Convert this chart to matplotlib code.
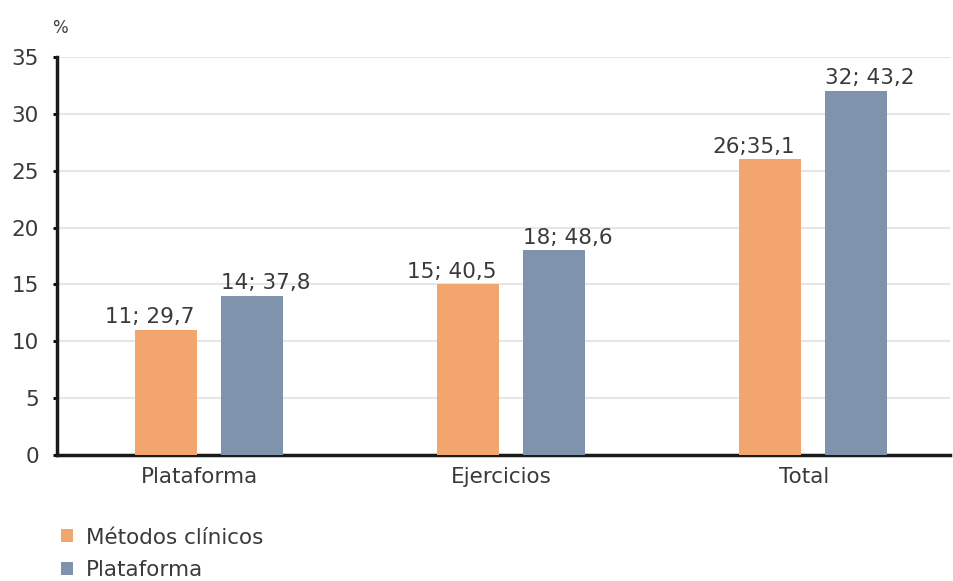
import numpy as np
import matplotlib
matplotlib.use('Agg')
import matplotlib.pyplot as plt
from matplotlib.patches import Patch

# Dados
categorias = ['Plataforma', 'Ejercicios', 'Total']
metodos_clinicos = [11, 15, 26]
plataforma = [14, 18, 32]
rotulos_metodos = ['11; 29,7', '15; 40,5', '26;35,1']
rotulos_plataforma = ['14; 37,8', '18; 48,6', '32; 43,2']
yticks = [0, 5, 10, 15, 20, 25, 30, 35]

cor_laranja = '#F3A56E'
cor_azul = '#8093AD'
cor_texto = '#3a3a3a'

plt.rcParams['font.family'] = ['DejaVu Sans']

fig = plt.figure(figsize=(9.54, 5.81), dpi=100)
ax = fig.add_axes([0.0597, 0.2169, 0.936, 0.685])

x = np.arange(len(categorias))
largura = 0.205
desloc = 0.142

b1 = ax.bar(x - desloc, metodos_clinicos, largura, color=cor_laranja, zorder=3)
b2 = ax.bar(x + desloc, plataforma, largura, color=cor_azul, zorder=3)

# rótulos ligeiramente afastados do centro do grupo, como no original
for barra, txt in zip(b1, rotulos_metodos):
    ax.annotate(txt, (barra.get_x() + barra.get_width() / 2, barra.get_height()),
                xytext=(-12, 2), textcoords='offset points', ha='center', va='bottom',
                fontsize=15.5, color=cor_texto)
for barra, txt in zip(b2, rotulos_plataforma):
    ax.annotate(txt, (barra.get_x() + barra.get_width() / 2, barra.get_height()),
                xytext=(10, 2), textcoords='offset points', ha='center', va='bottom',
                fontsize=15.5, color=cor_texto)

ax.set_xlim(-0.503, 2.454)
ax.set_ylim(0, 35)
ax.set_yticks(yticks)
ax.set_xticks(x - 0.03)
ax.set_xticklabels(categorias, fontsize=15.5, color=cor_texto)
ax.tick_params(axis='y', labelsize=15.5, labelcolor=cor_texto, length=3, width=2, direction='out', pad=10)
ax.tick_params(axis='x', length=0, pad=9)

ax.grid(axis='y', color='#e6e6e6', linewidth=1.5, zorder=0)
ax.set_axisbelow(True)
for lado in ['top', 'right']:
    ax.spines[lado].set_visible(False)
ax.spines['left'].set_linewidth(2.5)
ax.spines['bottom'].set_linewidth(2.5)
ax.spines['left'].set_color('#1a1a1a')
ax.spines['bottom'].set_color('#1a1a1a')

fig.text(0.0629, 0.952, '%', fontsize=12, color=cor_texto, ha='center', va='center')

handles = [Patch(facecolor=cor_laranja, label='Métodos clínicos'),
           Patch(facecolor=cor_azul, label='Plataforma')]
fig.legend(handles=handles, loc='upper left', bbox_to_anchor=(0.064, 0.092),
           frameon=False, fontsize=15.5, handlelength=0.55, handleheight=0.55,
           handletextpad=0.6, labelspacing=0.58, borderaxespad=0, borderpad=0,
           labelcolor=cor_texto)

fig.savefig('out.png', dpi=100)
plt.close(fig)
